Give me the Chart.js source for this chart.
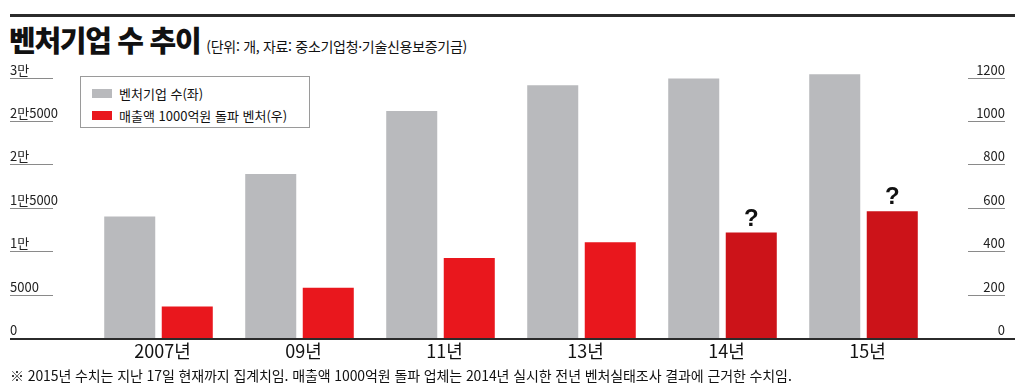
<!DOCTYPE html>
<html lang="ko">
<head>
<meta charset="utf-8">
<title>벤처기업 수 추이</title>
<script src="https://cdn.jsdelivr.net/npm/chart.js@4"></script>
<style>
  html, body { margin: 0; padding: 0; background: #fff; }
  #wrap { position: relative; width: 1024px; height: 389px; overflow: hidden; font-family: "Noto Sans CJK KR", sans-serif; color: #111; }
  #chart { position: absolute; left: 0; top: 0; }
  .rule { position: absolute; left: 10px; top: 14px; width: 1005px; height: 3px; background: #2b2b2b; }
  .title { position: absolute; left: 9px; top: 18px; white-space: nowrap; }
  .title b { font-size: 29px; font-weight: 900; letter-spacing: -1.3px; }
  .title span { font-size: 14px; margin-left: 6px; letter-spacing: -0.3px; }
  .note { position: absolute; left: 10px; top: 365px; font-size: 14px; white-space: nowrap; letter-spacing: -0.1px; }
  #legend { position: absolute; left: 80px; top: 76px; width: 230px; height: 52px; border: 1px solid #9a9a9a; box-sizing: border-box; background: #fff; }
  #legend div { position: absolute; left: 11px; font-size: 13px; white-space: nowrap; line-height: 16px; }
  #legend i { display: inline-block; width: 20px; height: 9px; margin-right: 7px; vertical-align: 1px; }
</style>
</head>
<body>
<div id="wrap">
  <div class="rule"></div>
  <div class="title"><b>벤처기업 수 추이</b><span>(단위: 개, 자료: 중소기업청·기술신용보증기금)</span></div>
  <canvas id="chart" width="1024" height="389"></canvas>
  <div id="legend"></div>
  <div class="note">※ 2015년 수치는 지난 17일 현재까지 집계치임. 매출액 1000억원 돌파 업체는 2014년 실시한 전년 벤처실태조사 결과에 근거한 수치임.</div>
</div>
<script>
// 데이터
const categories = ['2007년', '09년', '11년', '13년', '14년', '15년'];
const ventureCounts = [14015, 18893, 26148, 29135, 29910, 30400];   // 벤처기업 수(좌)
const bigVentures = [145, 232, 369, 441, 486, 584];                 // 매출액 1000억원 돌파 벤처(우)
const bigVentureNotes = ['', '', '', '', '?', '?'];
const leftTicks = [0, 5000, 10000, 15000, 20000, 25000, 30000];
const leftTickLabels = ['0', '5000', '1만', '1만5000', '2만', '2만5000', '3만'];
const rightTicks = [0, 200, 400, 600, 800, 1000, 1200];
const rightTickLabels = ['0', '200', '400', '600', '800', '1000', '1200'];

const GRAY = '#b9babd';
const RED = '#e9171d';
const RED_DARK = '#cc1319';
const narrow = '"Liberation Sans Narrow", "Noto Sans CJK KR", sans-serif';

// 추정치(?) 막대는 진한 빨강
const redColors = bigVentureNotes.map(n => n ? RED_DARK : RED);

const decor = {
    id: 'decor',
    afterDraw(chart) {
        const ctx = chart.ctx;
        const yl = chart.scales.y;
        const yr = chart.scales.y1;
        ctx.save();

        // 눈금 밑줄
        ctx.strokeStyle = '#8a8a8a';
        ctx.lineWidth = 1;
        yl.ticks.forEach(t => {
            if (t.value === 0) return;
            const py = Math.round(yl.getPixelForValue(t.value)) + 0.5;
            ctx.beginPath(); ctx.moveTo(yl.left, py); ctx.lineTo(yl.left + 43, py); ctx.stroke();
        });
        yr.ticks.forEach(t => {
            if (t.value === 0) return;
            const py = Math.round(yr.getPixelForValue(t.value)) + 0.5;
            ctx.beginPath(); ctx.moveTo(yr.right - 37, py); ctx.lineTo(yr.right, py); ctx.stroke();
        });

        // 기준선
        const by = yl.getPixelForValue(0);
        ctx.strokeStyle = '#2b2b2b';
        ctx.lineWidth = 2;
        ctx.beginPath(); ctx.moveTo(10, by + 1); ctx.lineTo(1015, by + 1); ctx.stroke();

        // 물음표
        const meta = chart.getDatasetMeta(1);
        ctx.fillStyle = '#111';
        ctx.font = 'bold 24px "Liberation Sans", sans-serif';
        ctx.textAlign = 'center';
        ctx.textBaseline = 'alphabetic';
        bigVentureNotes.forEach((n, i) => {
            if (!n) return;
            const bar = meta.data[i];
            ctx.fillText(n, bar.x, bar.y - 7);
        });
        ctx.restore();
    }
};

const chart = new Chart(document.getElementById('chart'), {
    type: 'bar',
    data: {
        labels: categories,
        datasets: [{
            label: '벤처기업 수(좌)',
            data: ventureCounts,
            backgroundColor: GRAY,
            yAxisID: 'y',
            categoryPercentage: 0.816,
            barPercentage: 0.887
        }, {
            label: '매출액 1000억원 돌파 벤처(우)',
            data: bigVentures,
            backgroundColor: redColors,
            yAxisID: 'y1',
            categoryPercentage: 0.816,
            barPercentage: 0.887
        }]
    },
    options: {
        responsive: false,
        animation: false,
        layout: { padding: { left: 10, right: 19, top: 69, bottom: 23 } },
        plugins: {
            legend: { display: false },
            tooltip: { enabled: false }
        },
        scales: {
            x: {
                offset: true,
                grid: { display: false, drawTicks: false },
                border: { display: false },
                ticks: {
                    color: '#111',
                    font: { family: narrow, size: 18 },
                    padding: 2,
                    labelOffset: 4,
                    maxRotation: 0
                },
                afterFit: s => { s.height = 28; }
            },
            y: {
                position: 'left',
                min: 0,
                max: 31000,
                grid: { display: false, drawTicks: false },
                border: { display: false },
                afterBuildTicks: s => { s.ticks = leftTicks.map(v => ({ value: v })); },
                ticks: {
                    color: '#222',
                    font: { family: narrow, size: 13 },
                    crossAlign: 'far',
                    padding: 0,
                    labelOffset: -8,
                    callback: v => leftTickLabels[leftTicks.indexOf(v)]
                },
                afterFit: s => { s.width = 78; }
            },
            y1: {
                position: 'right',
                min: 0,
                max: 1240,
                grid: { display: false, drawTicks: false },
                border: { display: false },
                afterBuildTicks: s => { s.ticks = rightTicks.map(v => ({ value: v })); },
                ticks: {
                    color: '#222',
                    font: { family: narrow, size: 13 },
                    crossAlign: 'far',
                    padding: 0,
                    labelOffset: -8,
                    callback: v => rightTickLabels[rightTicks.indexOf(v)]
                },
                afterFit: s => { s.width = 71; }
            }
        }
    },
    plugins: [decor]
});

// 범례
const legendEl = document.getElementById('legend');
chart.data.datasets.forEach((ds, i) => {
    const row = document.createElement('div');
    row.style.top = (i === 0 ? 9 : 31) + 'px';
    const sw = document.createElement('i');
    sw.style.background = Array.isArray(ds.backgroundColor) ? ds.backgroundColor[0] : ds.backgroundColor;
    row.appendChild(sw);
    row.appendChild(document.createTextNode(ds.label));
    legendEl.appendChild(row);
});
</script>
</body>
</html>
